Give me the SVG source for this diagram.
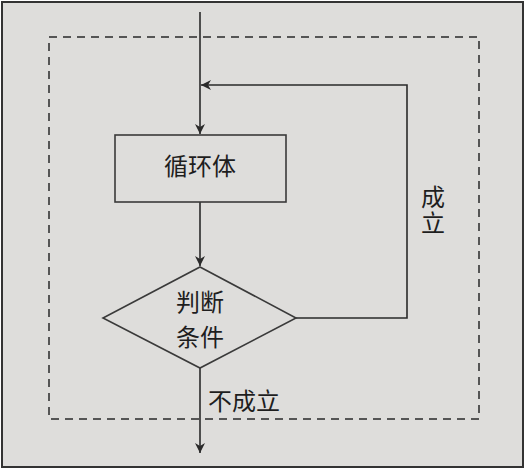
<svg xmlns="http://www.w3.org/2000/svg" width="525" height="470" viewBox="0 0 525 470">
<style>
.ln{fill:none;stroke:#2a2a2a;stroke-width:1.6}
.sh{fill:none;stroke:#3a3a3a;stroke-width:1.6}
.tx{font-family:"Liberation Serif","Noto Sans CJK SC",serif;font-size:24px;fill:#1e1e1e}
</style>
<defs>
<marker id="ah" viewBox="0 0 10 10" refX="10" refY="5" markerWidth="10" markerHeight="10" markerUnits="userSpaceOnUse" orient="auto">
<path d="M0,0 L10,5 L0,10 L3,5 Z" fill="#2a2a2a"/>
</marker>
</defs>
<rect x="2" y="2" width="521" height="465" fill="#dedddb" stroke="#333" stroke-width="2"/>
<rect x="49" y="37" width="430" height="382" fill="none" stroke="#555" stroke-width="2" stroke-dasharray="8,6"/>
<g id="connectors">
<line class="ln" x1="200" y1="12" x2="200" y2="134" marker-end="url(#ah)"/>
<line class="ln" x1="200" y1="202" x2="200" y2="266" marker-end="url(#ah)"/>
<polyline class="ln" points="296,318 407,318 407,85 201,85" marker-end="url(#ah)"/>
<line class="ln" x1="200" y1="368" x2="200" y2="453" marker-end="url(#ah)"/>
<text class="tx" x="208" y="410">不成立</text>
<text class="tx" x="421" y="206">成</text>
<text class="tx" x="421" y="232">立</text>
</g>
<g id="loop-body">
<rect class="sh" x="115" y="135" width="171" height="67"/>
<text class="tx" x="200" y="175" text-anchor="middle">循环体</text>
</g>
<g id="condition">
<polygon class="sh" points="200,267 296,318 200,368 103,318"/>
<text class="tx" x="200" y="311" text-anchor="middle">判断</text>
<text class="tx" x="200" y="346" text-anchor="middle">条件</text>
</g>
</svg>
